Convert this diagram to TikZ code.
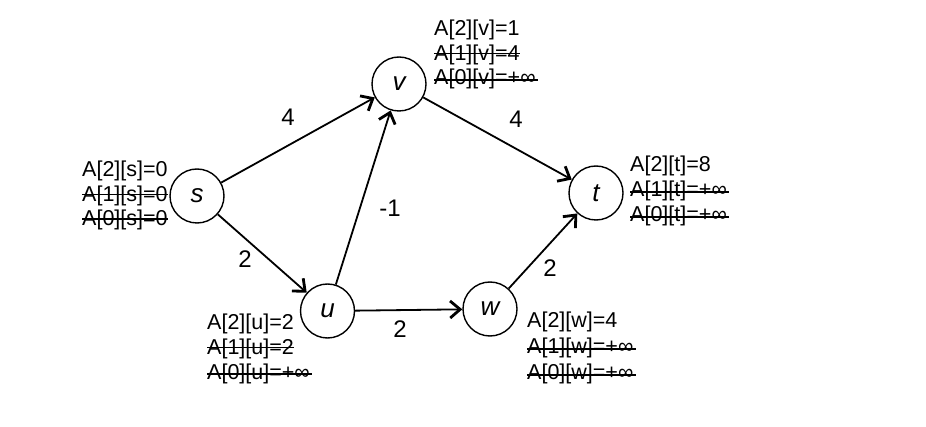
\documentclass[tikz,border=0pt]{standalone}
\usepackage{fontspec}
\setmainfont{Liberation Sans}
\usetikzlibrary{arrows.meta}
\newcommand\strk[3]{\draw[strike] ([yshift=#2]#1.base west) -- ([xshift=#3,yshift=#2]#1.base east);}
\begin{document}
\begin{tikzpicture}[x=1pt,y=-1pt,
  vert/.style={circle,draw,line width=1.4pt,minimum size=54pt,inner sep=0pt,font=\fontsize{26}{30}\selectfont\itshape},
  edge/.style={line width=1.8pt,-{Straight Barb[length=10pt,width=17pt,line width=2.8pt]}},
  wt/.style={inner sep=0pt,font=\fontsize{24}{28}\selectfont},
  lab/.style={anchor=base west,inner sep=0pt,font=\fontsize{21.5}{25}\selectfont},
  strike/.style={line width=1.6pt}]
\useasboundingbox (0,0) rectangle (926,427);
\fill[white] (0,0) rectangle (926,427);
% vertices
\node[vert] (s) at (197,196) {s};
\node[vert] (v) at (399,84) {v};
\node[vert] (t) at (596,193) {t};
\node[vert] (u) at (327.5,311) {u};
\node[vert] (w) at (490,309) {w};
% edges
\draw[edge] (s) -- (v);
\draw[edge] (s) -- (u);
\draw[edge] (u) -- (v);
\draw[edge] (u) -- (w);
\draw[edge] (v) -- (t);
\draw[edge] (w) -- (t);
% weights
\node[wt] (wsv) at (288,117) {4};
\node[wt] (wvt) at (516,119) {4};
\node[wt] (wsu) at (245,259) {2};
\node[wt] (wuv) at (390,208) {-1};
\node[wt] (wuw) at (400,329) {2};
\node[wt] (wwt) at (550,268) {2};
% labels s
\node[lab] (s2) at (82,177) {A[2][s]=0};
\node[lab] (s1) at (82,201.5) {A[1][s]=0};
\node[lab] (s0) at (82,226) {A[0][s]=0};
\strk{s1}{7pt}{0pt}
\strk{s0}{7pt}{0pt}
% labels v
\node[lab] (v2) at (434,36) {A[2][v]=1};
\node[lab] (v1) at (434,60.5) {A[1][v]=4};
\node[lab] (v0) at (434,85) {A[0][v]=+∞};
\strk{v1}{7pt}{0pt}
\strk{v0}{5pt}{2pt}
% labels t
\node[lab] (t2) at (630,172) {A[2][t]=8};
\node[lab] (t1) at (630,197) {A[1][t]=+∞};
\node[lab] (t0) at (630,222) {A[0][t]=+∞};
\strk{t1}{5pt}{2pt}
\strk{t0}{5pt}{2pt}
% labels u
\node[lab] (u2) at (207,330) {A[2][u]=2};
\node[lab] (u1) at (207,354.5) {A[1][u]=2};
\node[lab] (u0) at (207,379) {A[0][u]=+∞};
\strk{u1}{7pt}{0pt}
\strk{u0}{5pt}{2pt}
% labels w
\node[lab] (w2) at (527,328) {A[2][w]=4};
\node[lab] (w1) at (527,354) {A[1][w]=+∞};
\node[lab] (w0) at (527,380) {A[0][w]=+∞};
\strk{w1}{5pt}{2pt}
\strk{w0}{5pt}{2pt}
\end{tikzpicture}
\end{document}
